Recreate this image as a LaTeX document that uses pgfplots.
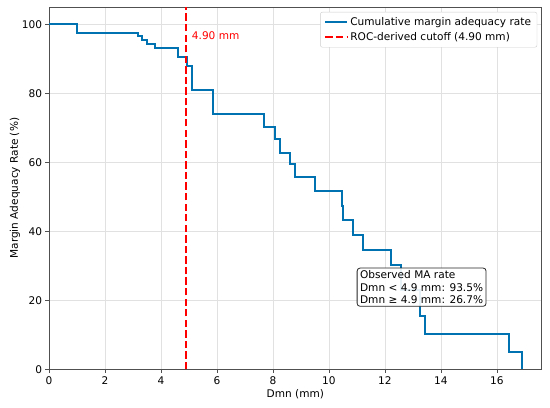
\documentclass[border=0pt]{standalone}
\usepackage{fontspec}
\setmainfont{DejaVu Sans}
\usepackage{pgfplots}
\pgfplotsset{compat=1.18}
\definecolor{mablue}{RGB}{0,114,178}
\definecolor{gridgray}{RGB}{225,225,225}
\definecolor{spine}{RGB}{80,80,80}
\newcommand{\fs}{\fontsize{10.6}{12.6}\selectfont}
\begin{document}
\begin{tikzpicture}
\begin{axis}[
  name=ax, at={(0,0)}, anchor=south west,
  scale only axis, width=492.7bp, height=362.3bp,
  xmin=0, xmax=17.6, ymin=0, ymax=105,
  xtick={0,2,...,16}, ytick={0,20,...,100},
  /pgf/number format/assume math mode=true,
  tick label style={font=\fs},
  label style={font=\fs},
  tick align=outside, major tick length=3.5bp,
  tick style={spine, line width=0.8pt},
  xtick pos=bottom, ytick pos=left,
  axis line style={spine, line width=0.8pt},
  grid=major, major grid style={gridgray, line width=0.8pt},
  xlabel={Dmn (mm)}, ylabel={Margin Adequacy Rate (\%)},
  xlabel style={yshift=2bp},
  ylabel style={yshift=-5bp},
  legend cell align=left,
  legend style={at={(1,1)}, xshift=-4.5bp, yshift=-5bp, anchor=north east,
    draw=gray!40, rounded corners=2bp, fill=white,
    font=\fs, row sep=2bp,
    inner xsep=4bp, inner ysep=3bp},
  legend image code/.code={\draw[#1] (0bp,0bp) -- (22bp,0bp);},
]
\addplot[const plot mark left, mablue, line width=2pt] coordinates {
(0,100) (1.01,97.6) (3.19,96.6) (3.33,95.5) (3.49,94.4) (3.79,93.0)
(4.60,90.6) (4.92,87.9) (5.12,81.0) (5.85,74.1) (7.68,70.3) (8.07,66.7)
(8.25,62.8) (8.61,59.4) (8.79,55.6) (9.50,51.7) (10.45,47.3) (10.51,43.3)
(10.85,38.9) (11.23,34.7) (12.21,30.3) (12.57,23.0) (13.27,15.4)
(13.43,10.1) (16.43,5.1) (16.88,0)
};
\addlegendentry{Cumulative margin adequacy rate}
\addplot[red, line width=2pt, dash pattern=on 7.4pt off 3.2pt] coordinates {(4.9,0) (4.9,105)};
\addlegendentry{ROC-derived cutoff (4.90 mm)}
\node[anchor=west, text=red, font=\fs] at (axis cs:4.98,96.8) {4.90 mm};
\node[draw=black!85, fill=white, fill opacity=0.9, text opacity=1, rounded corners=3bp,
  align=left, font=\fs, inner xsep=3bp, inner ysep=2.5bp, line width=0.8pt]
  at (axis cs:13.31,23.8) {Observed MA rate\\Dmn < 4.9 mm: 93.5\%\\Dmn ≥ 4.9 mm: 26.7\%};
\end{axis}
\pgfresetboundingbox
\path (-49bp,-38.7bp) rectangle (501bp,369.3bp);
\end{tikzpicture}
\end{document}
